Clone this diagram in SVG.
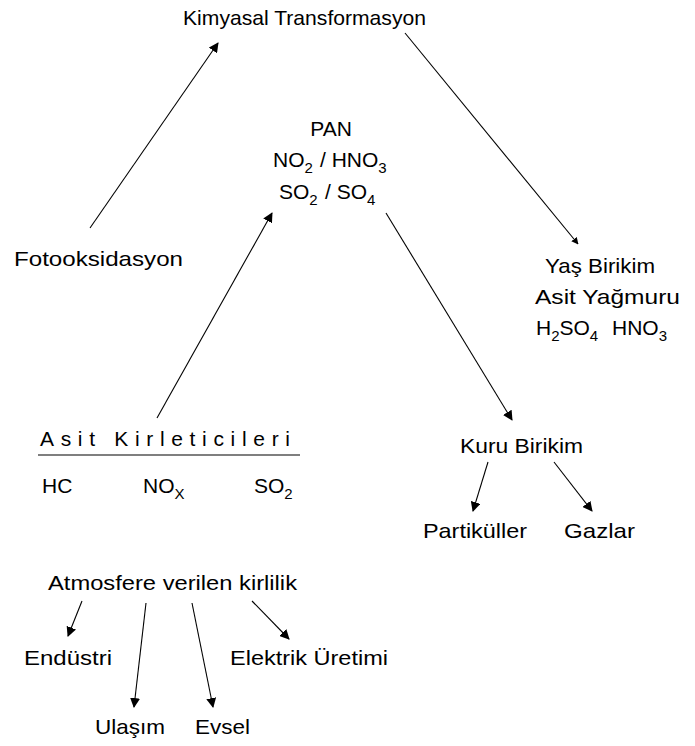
<svg xmlns="http://www.w3.org/2000/svg" width="695" height="746" viewBox="0 0 695 746">
<style>
text{font-family:"Liberation Sans",Arial,sans-serif;font-size:21px;fill:#000}
.sub{font-size:15px}
.c line{stroke:#000;stroke-width:1.1;fill:none}
</style>
<defs>
<marker id="a" viewBox="0 0 10 10" refX="9" refY="5" markerWidth="10" markerHeight="10" markerUnits="userSpaceOnUse" orient="auto"><path d="M0,0 L10,5 L0,10 z" fill="#000"/></marker>
<marker id="s" viewBox="0 0 10 10" refX="9" refY="5" markerWidth="7" markerHeight="7" markerUnits="userSpaceOnUse" orient="auto"><path d="M0,0 L10,5 L0,10 z" fill="#000"/></marker>
</defs>
<rect width="695" height="746" fill="#fff"/>
<g class="c">
<line x1="90" y1="228" x2="218" y2="43" marker-end="url(#a)"/>
<line x1="405" y1="33" x2="578" y2="244" marker-end="url(#s)"/>
<line x1="157" y1="418" x2="272" y2="213" marker-end="url(#a)"/>
<line x1="386" y1="213" x2="512" y2="420" marker-end="url(#a)"/>
<line x1="488" y1="462" x2="473" y2="511" marker-end="url(#a)"/>
<line x1="554" y1="462" x2="592" y2="511" marker-end="url(#a)"/>
<line x1="82" y1="601" x2="68" y2="636" marker-end="url(#a)"/>
<line x1="146" y1="603" x2="134" y2="707" marker-end="url(#a)"/>
<line x1="192" y1="603" x2="213" y2="707" marker-end="url(#a)"/>
<line x1="252" y1="601" x2="289" y2="639" marker-end="url(#a)"/>
</g>
<g id="kimyasal"><text x="183" y="25" textLength="243" lengthAdjust="spacingAndGlyphs">Kimyasal Transformasyon</text></g>
<g id="foto"><text x="14" y="266" textLength="169" lengthAdjust="spacingAndGlyphs">Fotooksidasyon</text></g>
<g id="pan">
<text x="331" y="136" text-anchor="middle">PAN</text>
<text x="273" y="167">NO<tspan class="sub" dy="6">2</tspan><tspan dy="-6" x="320">/ HNO</tspan><tspan class="sub" dy="6">3</tspan></text>
<text x="279" y="199">SO<tspan class="sub" dy="6">2</tspan><tspan dy="-6" x="325">/ SO</tspan><tspan class="sub" dy="6">4</tspan></text>
</g>
<g id="yas">
<text x="545" y="273" textLength="110" lengthAdjust="spacingAndGlyphs">Yaş Birikim</text>
<text x="535" y="304" textLength="145" lengthAdjust="spacingAndGlyphs">Asit Yağmuru</text>
<text x="536" y="335">H<tspan class="sub" dy="6">2</tspan><tspan dy="-6">SO</tspan><tspan class="sub" dy="6">4</tspan><tspan dy="-6" x="612">HNO</tspan><tspan class="sub" dy="6">3</tspan></text>
</g>
<g id="asit">
<text x="40" y="446" textLength="250" lengthAdjust="spacing">Asit Kirleticileri</text>
<line x1="38" y1="455" x2="300" y2="455" stroke="#000" stroke-width="1.2"/>
<text x="42" y="493">HC</text>
<text x="143" y="493">NO<tspan class="sub" dy="6">X</tspan></text>
<text x="254" y="493">SO<tspan class="sub" dy="6">2</tspan></text>
</g>
<g id="kuru"><text x="460" y="453" textLength="123" lengthAdjust="spacingAndGlyphs">Kuru Birikim</text></g>
<g id="partikuller"><text x="423" y="538" textLength="104" lengthAdjust="spacingAndGlyphs">Partiküller</text></g>
<g id="gazlar"><text x="564" y="538" textLength="71" lengthAdjust="spacingAndGlyphs">Gazlar</text></g>
<g id="atmosfere"><text x="48" y="590" textLength="249" lengthAdjust="spacingAndGlyphs">Atmosfere verilen kirlilik</text></g>
<g id="endustri"><text x="24" y="665" textLength="88" lengthAdjust="spacingAndGlyphs">Endüstri</text></g>
<g id="elektrik"><text x="230" y="665" textLength="158" lengthAdjust="spacingAndGlyphs">Elektrik Üretimi</text></g>
<g id="ulasim"><text x="95" y="734" textLength="70" lengthAdjust="spacingAndGlyphs">Ulaşım</text></g>
<g id="evsel"><text x="195" y="734" textLength="55" lengthAdjust="spacingAndGlyphs">Evsel</text></g>
</svg>
